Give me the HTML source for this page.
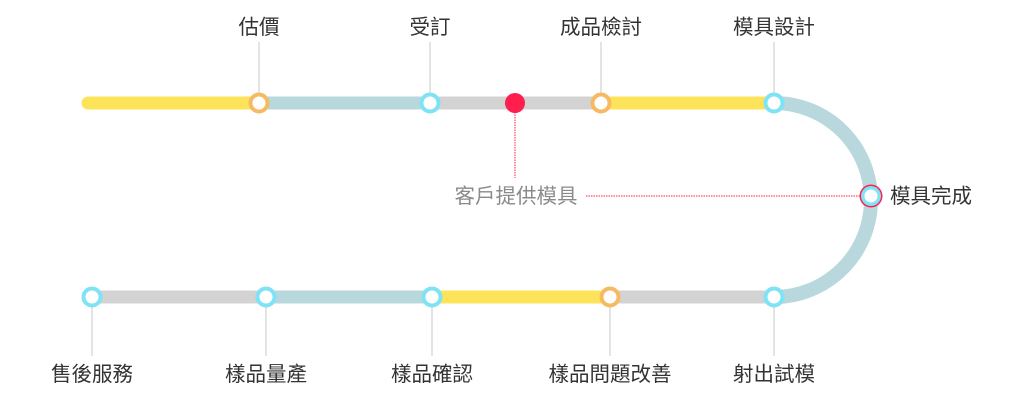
<!DOCTYPE html>
<html><head><meta charset="utf-8"><style>
html,body{margin:0;padding:0;background:#fff;}
svg text{font-family:"Liberation Sans","Noto Sans CJK TC",sans-serif;font-size:20.5px;fill:#333;}
</style></head><body>
<svg width="1032" height="412" viewBox="0 0 1032 412" xmlns="http://www.w3.org/2000/svg">
<g stroke-width="13" fill="none">
<line x1="88" y1="103" x2="259" y2="103" stroke="#fde35a" stroke-linecap="round"/>
<line x1="259" y1="103" x2="430" y2="103" stroke="#b8d8dd"/>
<line x1="430" y1="103" x2="601" y2="103" stroke="#d3d3d3"/>
<line x1="601" y1="103" x2="774" y2="103" stroke="#fde35a"/>
<path d="M774 103 A97 97 0 0 1 774 297" stroke="#b8d8dd" stroke-width="14"/>
<line x1="92" y1="297" x2="266" y2="297" stroke="#d3d3d3"/>
<line x1="266" y1="297" x2="432" y2="297" stroke="#b8d8dd"/>
<line x1="432" y1="297" x2="610" y2="297" stroke="#fde35a"/>
<line x1="610" y1="297" x2="774" y2="297" stroke="#d3d3d3"/>
</g>
<g stroke="#c8c8c8" stroke-width="1">
<line x1="259" y1="42" x2="259" y2="94"/><line x1="430" y1="42" x2="430" y2="94"/>
<line x1="601" y1="42" x2="601" y2="94"/><line x1="774" y1="42" x2="774" y2="94"/>
<line x1="92" y1="306" x2="92" y2="356"/><line x1="266" y1="306" x2="266" y2="356"/>
<line x1="432" y1="306" x2="432" y2="356"/><line x1="610" y1="306" x2="610" y2="356"/>
<line x1="774" y1="306" x2="774" y2="356"/>
</g>
<g stroke="#ff1e4d" stroke-width="1" stroke-dasharray="1.5 1">
<line x1="515" y1="112" x2="515" y2="178"/>
<line x1="586" y1="196" x2="862" y2="196"/>
</g>
<g fill="#fff" stroke-width="4">
<circle cx="259" cy="103" r="8.5" stroke="#f6bb62"/>
<circle cx="430" cy="103" r="8.5" stroke="#7fe3f5"/>
<circle cx="601" cy="103" r="8.5" stroke="#f6bb62"/>
<circle cx="774" cy="103" r="8.5" stroke="#7fe3f5"/>
<circle cx="92" cy="297" r="8.5" stroke="#7fe3f5"/>
<circle cx="266" cy="297" r="8.5" stroke="#7fe3f5"/>
<circle cx="432" cy="297" r="8.5" stroke="#7fe3f5"/>
<circle cx="610" cy="297" r="8.5" stroke="#f6bb62"/>
<circle cx="774" cy="297" r="8.5" stroke="#7fe3f5"/>
</g>
<circle cx="515" cy="103" r="10" fill="#ff1e4d"/>
<circle cx="871" cy="196" r="11.5" fill="#ff1e4d"/>
<circle cx="871" cy="196" r="10" fill="#7fe3f5"/>
<circle cx="871" cy="196" r="6.5" fill="#fff"/>
<g text-anchor="middle">
<text x="259" y="34">估價</text><text x="430" y="34">受訂</text>
<text x="601" y="34">成品檢討</text><text x="774" y="34">模具設計</text>
<text x="92" y="381">售後服務</text><text x="266" y="381">樣品量產</text>
<text x="432" y="381">樣品確認</text><text x="610" y="381">樣品問題改善</text>
<text x="774" y="381">射出試模</text>
</g>
<text x="516" y="203" text-anchor="middle" style="fill:#8a8a8a">客戶提供模具</text>
<text x="890" y="203">模具完成</text>
</svg>
</body></html>
